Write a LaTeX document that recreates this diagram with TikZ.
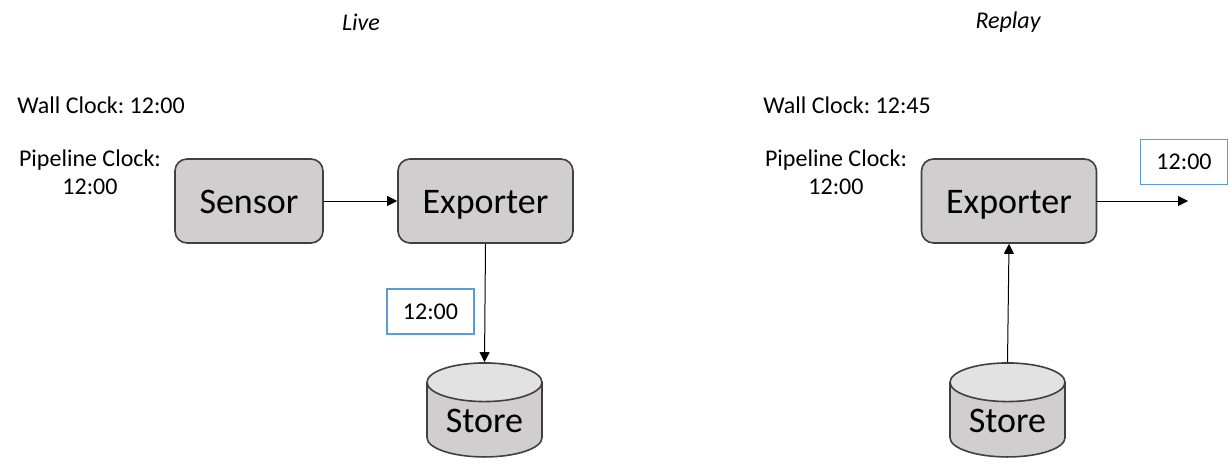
\documentclass[tikz,border=0pt]{standalone}
\usepackage{fontspec}
\setmainfont{Carlito}
\usetikzlibrary{arrows.meta,shapes.geometric}
\definecolor{boxgray}{HTML}{D0CECE}
\definecolor{boxline}{HTML}{404040}
\definecolor{capgray}{HTML}{E2E2E2}
\definecolor{tagblue}{HTML}{5B9BD5}
\frenchspacing

\begin{document}
\begin{tikzpicture}[x=0.5pt,y=-0.5pt,
    stage/.style={draw=boxline,fill=boxgray,line width=0.8pt,rounded corners=6pt,
        minimum height=42pt,inner sep=0pt,text height=12.5pt,text depth=0.5pt,
        font=\fontsize{18}{22}\selectfont},
    storage/.style={cylinder,shape border rotate=90,aspect=0.5,draw=boxline,line width=0.8pt,
        cylinder uses custom fill,cylinder body fill=boxgray,cylinder end fill=capgray,
        minimum width=57.5pt,minimum height=47pt,inner sep=0pt,text height=12.5pt,text depth=0.5pt,
        font=\fontsize{18}{22}\selectfont},
    stamp/.style={draw=tagblue,line width=0.8pt,minimum width=43.5pt,minimum height=22.5pt,
        inner sep=0pt,font=\fontsize{12}{14}\selectfont},
    caption/.style={font=\fontsize{12}{14}\selectfont\itshape},
    clock/.style={inner sep=0pt,align=center,font=\fontsize{12}{14}\selectfont},
    flow/.style={line width=0.5pt,-{Triangle[length=5pt,width=5pt]}}]
    \useasboundingbox (0,0) rectangle (1229,465);

    % live
    \node[caption] (livetitle) at (361,22) {Live};
    \node[clock,anchor=west] (livewall) at (17,105) {Wall Clock: 12:00};
    \node[clock] (livepipe) at (90,172) {Pipeline Clock:\\12:00};
    \node[stage,minimum width=74pt] (sensor) at (249,201) {Sensor};
    \node[stage,minimum width=87.5pt] (liveexp) at (485.5,201) {Exporter};
    \node[storage] (livestore) at (484.5,420) {Store};
    \node[stamp] (livestamp) at (430.5,311.5) {12:00};
    \draw[flow] (sensor) -- (liveexp);
    \draw[flow] (liveexp.south) -- (livestore.north);

    % replay
    \node[caption] (replaytitle) at (1008,22) {Replay};
    \node[clock,anchor=west] (replaywall) at (763,105) {Wall Clock: 12:45};
    \node[clock] (replaypipe) at (836,172) {Pipeline Clock:\\12:00};
    \node[stage,minimum width=87.5pt] (replayexp) at (1009,201) {Exporter};
    \node[storage] (replaystore) at (1007.5,420) {Store};
    \node[stamp] (replaystamp) at (1184,162) {12:00};
    \coordinate (replayout) at (1188,201);
    \draw[flow] (replayexp) -- (replayout);
    \draw[flow] (replaystore.north) -- (replayexp.south);
\end{tikzpicture}
\end{document}
